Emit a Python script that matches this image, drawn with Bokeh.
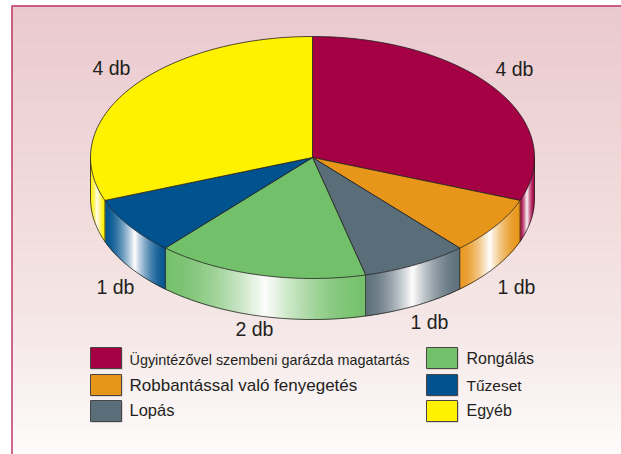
import numpy as np
from bokeh.plotting import figure
from bokeh.models import Label, Range1d
from bokeh.embed import file_html
from bokeh.resources import INLINE

categories = ["Ügyintézővel szembeni garázda magatartás", "Robbantással való fenyegetés", "Lopás",
              "Rongálás", "Tűzeset", "Egyéb"]
values = [4, 1, 1, 2, 1, 4]
value_labels = ["4 db", "1 db", "1 db", "2 db", "1 db", "4 db"]
colors = ["#a50044", "#e8961a", "#5a6e7a", "#72c069", "#00538f", "#fff200"]

W, H = 621, 454
CX, CY, RX, RY, DEPTH = 312, 157, 222, 121, 41
INK = "#231f20"

def dx(px):
    return (np.asarray(px, float) - CX) / RX
def dy(py):
    return (CY - np.asarray(py, float)) / RY
depth = DEPTH / RY

def hex_rgb(h):
    return np.array([int(h[i:i + 2], 16) for i in (1, 3, 5)], float)
def rgb_hex(c):
    return "#%02x%02x%02x" % tuple(int(round(v)) for v in c)

p = figure(width=W, height=H, output_backend="svg", toolbar_location=None,
           x_range=Range1d(float(dx(0)), float(dx(W))), y_range=Range1d(float(dy(H)), float(dy(0))),
           min_border=0, outline_line_color=None, margin=(0, 0, 0, 0))
p.axis.visible = False
p.grid.visible = False
p.background_fill_color = "white"
p.border_fill_color = "white"

# page background gradient
stops_y = [5, 227, 340, 454]
stops_c = np.array([hex_rgb(c) for c in ("#e9c8cd", "#f2dcdc", "#f5e8e8", "#fefcfc")])
edges = np.arange(5, H + 2, 2)
bg = [rgb_hex([np.interp(e, stops_y, stops_c[:, k]) for k in range(3)]) for e in edges[:-1]]
p.quad(left=float(dx(11)), right=float(dx(W)), top=dy(edges[:-1]), bottom=dy(edges[1:]),
       fill_color=bg, line_color=bg, line_width=0.5)
p.line(dx([11.5, 11.5, W]), dy([H, 5.5, 5.5]), line_color="#c0396b", line_width=1.5)

# slice boundaries from the values
total = sum(values)
cum = np.concatenate([[0], np.cumsum(values)])
angles = np.pi / 2 - 2 * np.pi * cum / total

# side wall: thin strips with a colour-white-colour sheen
for i, col in enumerate(colors):
    a0, a1 = angles[i], angles[i + 1]
    # visible part is the lower half (sin < 0)
    lo, hi = max(a1, -np.pi), min(a0, 0.0)
    if lo >= hi:
        continue
    x_start, x_end = np.cos(lo), np.cos(hi)  # left to right on the lower half
    n = max(2, int((x_end - x_start) * RX))
    xs = np.linspace(x_start, x_end, n + 1)
    ys = -np.sqrt(np.clip(1 - xs ** 2, 0, 1))
    base = hex_rgb(col)
    px_s, py_s, cs = [], [], []
    for j in range(n):
        f = (j + 0.5) / n
        m = (1 - abs(2 * f - 1)) ** 1.7
        cs.append(rgb_hex(base + (255 - base) * m))
        px_s.append([xs[j], xs[j + 1], xs[j + 1], xs[j]])
        py_s.append([ys[j], ys[j + 1], ys[j + 1] - depth, ys[j] - depth])
    p.patches(px_s, py_s, fill_color=cs, line_color=cs, line_width=0.6)

# wall outline: bottom rim and vertical seams
t = np.linspace(0, -np.pi, 241)
p.line(np.cos(t), np.sin(t) - depth, line_color=INK, line_width=0.8)
seam_x, seam_y = [[1, 1], [-1, -1]], [[0, -depth], [0, -depth]]
for a in angles:
    if np.sin(a) < 0:
        seam_x.append([np.cos(a), np.cos(a)])
        seam_y.append([np.sin(a), np.sin(a) - depth])
p.multi_line(seam_x, seam_y, line_color=INK, line_width=0.8)

# top face
for i, col in enumerate(colors):
    t = np.linspace(angles[i], angles[i + 1], 80)
    p.patch(np.r_[0, np.cos(t)], np.r_[0, np.sin(t)], fill_color=col, line_color=INK, line_width=0.8)

# value labels
label_x = [495, 497, 410, 235, 96, 92]
label_y = [68, 286, 321, 328, 286, 67]
for t_, lx, ly in zip(value_labels, label_x, label_y):
    p.add_layout(Label(x=float(dx(lx)), y=float(dy(ly)), text=t_, text_font="Liberation Sans",
                       text_font_size="19.5px", text_color=INK, text_baseline="alphabetic"))

# legend
sw_x = [90, 90, 90, 426, 426, 426]
sw_y = [347, 374, 400, 347, 374, 400]
tx_x = [129, 129, 129, 466, 466, 466]
tx_y = [359, 385, 409, 358, 385, 410]
tx_size = ["14.4px", "17px", "16.5px", "16px", "15.5px", "16px"]
p.quad(left=dx(sw_x) + 1 / RX, right=dx(np.array(sw_x) + 31) + 1 / RX,
       top=dy(np.array(sw_y) + 1), bottom=dy(np.array(sw_y) + 22), fill_color="#bdb5b5", line_color=None)
p.quad(left=dx(sw_x), right=dx(np.array(sw_x) + 31), top=dy(sw_y), bottom=dy(np.array(sw_y) + 21),
       fill_color=colors, line_color="#4a4445", line_width=1)
for c, lx, ly, s in zip(categories, tx_x, tx_y, tx_size):
    p.add_layout(Label(x=float(dx(lx)), y=float(dy(ly)), text=c, text_font="Liberation Sans",
                       text_font_size=s, text_color=INK, text_baseline="alphabetic"))

open("out.html", "w").write(file_html(p, INLINE))
